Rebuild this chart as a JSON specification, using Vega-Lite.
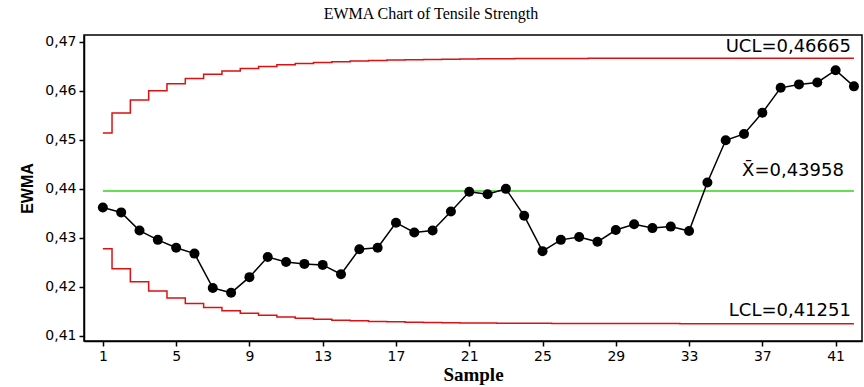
{
  "$schema": "https://vega.github.io/schema/vega-lite/v6.json",
  "width": 778,
  "height": 306,
  "autosize": "none",
  "padding": {"left": 84, "top": 35, "right": 2, "bottom": 46},
  "background": "white",
  "config": {
    "view": {"stroke": "black", "strokeWidth": 1.5},
    "axis": {"grid": false, "domainColor": "black", "domainWidth": 1.5, "tickColor": "black", "tickWidth": 1.5, "tickSize": 5, "labelColor": "black", "labelFont": "DejaVu Sans", "labelFontSize": 14, "titleColor": "black"}
  },
  "title": {"text": "EWMA Chart of Tensile Strength", "font": "Liberation Serif", "fontSize": 16, "fontWeight": "normal", "color": "black", "anchor": "middle", "dx": -42, "offset": 13},
  "data": {"values": [
    {"s": 1, "ewma": 0.4362, "ucl": 0.45138, "lcl": 0.42778, "cl": 0.43958},
    {"s": 2, "ewma": 0.4352, "ucl": 0.45546, "lcl": 0.42371, "cl": 0.43958},
    {"s": 3, "ewma": 0.4315, "ucl": 0.45811, "lcl": 0.42105, "cl": 0.43958},
    {"s": 4, "ewma": 0.4296, "ucl": 0.46001, "lcl": 0.41915, "cl": 0.43958},
    {"s": 5, "ewma": 0.4280, "ucl": 0.46143, "lcl": 0.41773, "cl": 0.43958},
    {"s": 6, "ewma": 0.4268, "ucl": 0.46251, "lcl": 0.41665, "cl": 0.43958},
    {"s": 7, "ewma": 0.4198, "ucl": 0.46335, "lcl": 0.41581, "cl": 0.43958},
    {"s": 8, "ewma": 0.4188, "ucl": 0.46401, "lcl": 0.41515, "cl": 0.43958},
    {"s": 9, "ewma": 0.4220, "ucl": 0.46454, "lcl": 0.41462, "cl": 0.43958},
    {"s": 10, "ewma": 0.4261, "ucl": 0.46495, "lcl": 0.41421, "cl": 0.43958},
    {"s": 11, "ewma": 0.4251, "ucl": 0.46528, "lcl": 0.41388, "cl": 0.43958},
    {"s": 12, "ewma": 0.4247, "ucl": 0.46555, "lcl": 0.41361, "cl": 0.43958},
    {"s": 13, "ewma": 0.4245, "ucl": 0.46576, "lcl": 0.41340, "cl": 0.43958},
    {"s": 14, "ewma": 0.4226, "ucl": 0.46593, "lcl": 0.41323, "cl": 0.43958},
    {"s": 15, "ewma": 0.4277, "ucl": 0.46607, "lcl": 0.41309, "cl": 0.43958},
    {"s": 16, "ewma": 0.4280, "ucl": 0.46618, "lcl": 0.41298, "cl": 0.43958},
    {"s": 17, "ewma": 0.4331, "ucl": 0.46627, "lcl": 0.41289, "cl": 0.43958},
    {"s": 18, "ewma": 0.4311, "ucl": 0.46634, "lcl": 0.41282, "cl": 0.43958},
    {"s": 19, "ewma": 0.4315, "ucl": 0.46640, "lcl": 0.41276, "cl": 0.43958},
    {"s": 20, "ewma": 0.4354, "ucl": 0.46645, "lcl": 0.41271, "cl": 0.43958},
    {"s": 21, "ewma": 0.4394, "ucl": 0.46649, "lcl": 0.41267, "cl": 0.43958},
    {"s": 22, "ewma": 0.4389, "ucl": 0.46652, "lcl": 0.41264, "cl": 0.43958},
    {"s": 23, "ewma": 0.4400, "ucl": 0.46654, "lcl": 0.41262, "cl": 0.43958},
    {"s": 24, "ewma": 0.4345, "ucl": 0.46656, "lcl": 0.41260, "cl": 0.43958},
    {"s": 25, "ewma": 0.4273, "ucl": 0.46658, "lcl": 0.41258, "cl": 0.43958},
    {"s": 26, "ewma": 0.4296, "ucl": 0.46659, "lcl": 0.41257, "cl": 0.43958},
    {"s": 27, "ewma": 0.4302, "ucl": 0.46660, "lcl": 0.41256, "cl": 0.43958},
    {"s": 28, "ewma": 0.4292, "ucl": 0.46661, "lcl": 0.41255, "cl": 0.43958},
    {"s": 29, "ewma": 0.4316, "ucl": 0.46662, "lcl": 0.41254, "cl": 0.43958},
    {"s": 30, "ewma": 0.4328, "ucl": 0.46663, "lcl": 0.41253, "cl": 0.43958},
    {"s": 31, "ewma": 0.4320, "ucl": 0.46663, "lcl": 0.41253, "cl": 0.43958},
    {"s": 32, "ewma": 0.4323, "ucl": 0.46663, "lcl": 0.41253, "cl": 0.43958},
    {"s": 33, "ewma": 0.4314, "ucl": 0.46664, "lcl": 0.41252, "cl": 0.43958},
    {"s": 34, "ewma": 0.4413, "ucl": 0.46664, "lcl": 0.41252, "cl": 0.43958},
    {"s": 35, "ewma": 0.4499, "ucl": 0.46664, "lcl": 0.41252, "cl": 0.43958},
    {"s": 36, "ewma": 0.4512, "ucl": 0.46665, "lcl": 0.41251, "cl": 0.43958},
    {"s": 37, "ewma": 0.4555, "ucl": 0.46665, "lcl": 0.41251, "cl": 0.43958},
    {"s": 38, "ewma": 0.4606, "ucl": 0.46665, "lcl": 0.41251, "cl": 0.43958},
    {"s": 39, "ewma": 0.4613, "ucl": 0.46665, "lcl": 0.41251, "cl": 0.43958},
    {"s": 40, "ewma": 0.4617, "ucl": 0.46665, "lcl": 0.41251, "cl": 0.43958},
    {"s": 41, "ewma": 0.4642, "ucl": 0.46665, "lcl": 0.41251, "cl": 0.43958},
    {"s": 42, "ewma": 0.4609, "ucl": 0.46665, "lcl": 0.41251, "cl": 0.43958}
  ]},
  "encoding": {
    "x": {"field": "s", "type": "quantitative", "scale": {"domain": [-0.03, 42.44], "nice": false, "zero": false},
      "axis": {"values": [1, 5, 9, 13, 17, 21, 25, 29, 33, 37, 41], "title": "Sample", "titleFont": "Liberation Serif", "titleFontSize": 19, "titleFontWeight": "bold", "titlePadding": 2, "labelPadding": 3}}
  },
  "layer": [
    {"mark": {"type": "line", "color": "#66dd55", "strokeWidth": 2},
     "encoding": {"y": {"field": "cl", "type": "quantitative", "scale": {"domain": [0.40898, 0.47137], "nice": false, "zero": false},
       "axis": {"values": [0.41, 0.42, 0.43, 0.44, 0.45, 0.46, 0.47], "labelExpr": "replace(format(datum.value, '.2f'), '.', ',')", "title": "EWMA", "titleFont": "Liberation Sans", "titleFontSize": 16, "titleFontWeight": "bold", "titlePadding": 9, "labelPadding": 3}}}},
    {"mark": {"type": "line", "color": "#dd1111", "strokeWidth": 1.5, "interpolate": "step"},
     "encoding": {"y": {"field": "ucl", "type": "quantitative"}}},
    {"mark": {"type": "line", "color": "#dd1111", "strokeWidth": 1.5, "interpolate": "step"},
     "encoding": {"y": {"field": "lcl", "type": "quantitative"}}},
    {"mark": {"type": "line", "color": "black", "strokeWidth": 1.5},
     "encoding": {"y": {"field": "ewma", "type": "quantitative"}}},
    {"mark": {"type": "point", "filled": true, "color": "black", "size": 100, "opacity": 1},
     "encoding": {"y": {"field": "ewma", "type": "quantitative"}}},
    {"data": {"values": [{"s": 42, "v": 0.46665, "t": "UCL=0,46665"}]},
     "mark": {"type": "text", "align": "right", "baseline": "alphabetic", "font": "DejaVu Sans", "fontSize": 18, "color": "black", "dx": -3, "dy": -6},
     "encoding": {"y": {"field": "v", "type": "quantitative"}, "text": {"field": "t"}}},
    {"data": {"values": [{"s": 42, "v": 0.43958, "t": "X̄=0,43958"}]},
     "mark": {"type": "text", "align": "right", "baseline": "alphabetic", "font": "DejaVu Sans", "fontSize": 18, "color": "black", "dx": -10, "dy": -15},
     "encoding": {"y": {"field": "v", "type": "quantitative"}, "text": {"field": "t"}}},
    {"data": {"values": [{"s": 42, "v": 0.41251, "t": "LCL=0,41251"}]},
     "mark": {"type": "text", "align": "right", "baseline": "alphabetic", "font": "DejaVu Sans", "fontSize": 18, "color": "black", "dx": -3, "dy": -8},
     "encoding": {"y": {"field": "v", "type": "quantitative"}, "text": {"field": "t"}}}
  ]
}
